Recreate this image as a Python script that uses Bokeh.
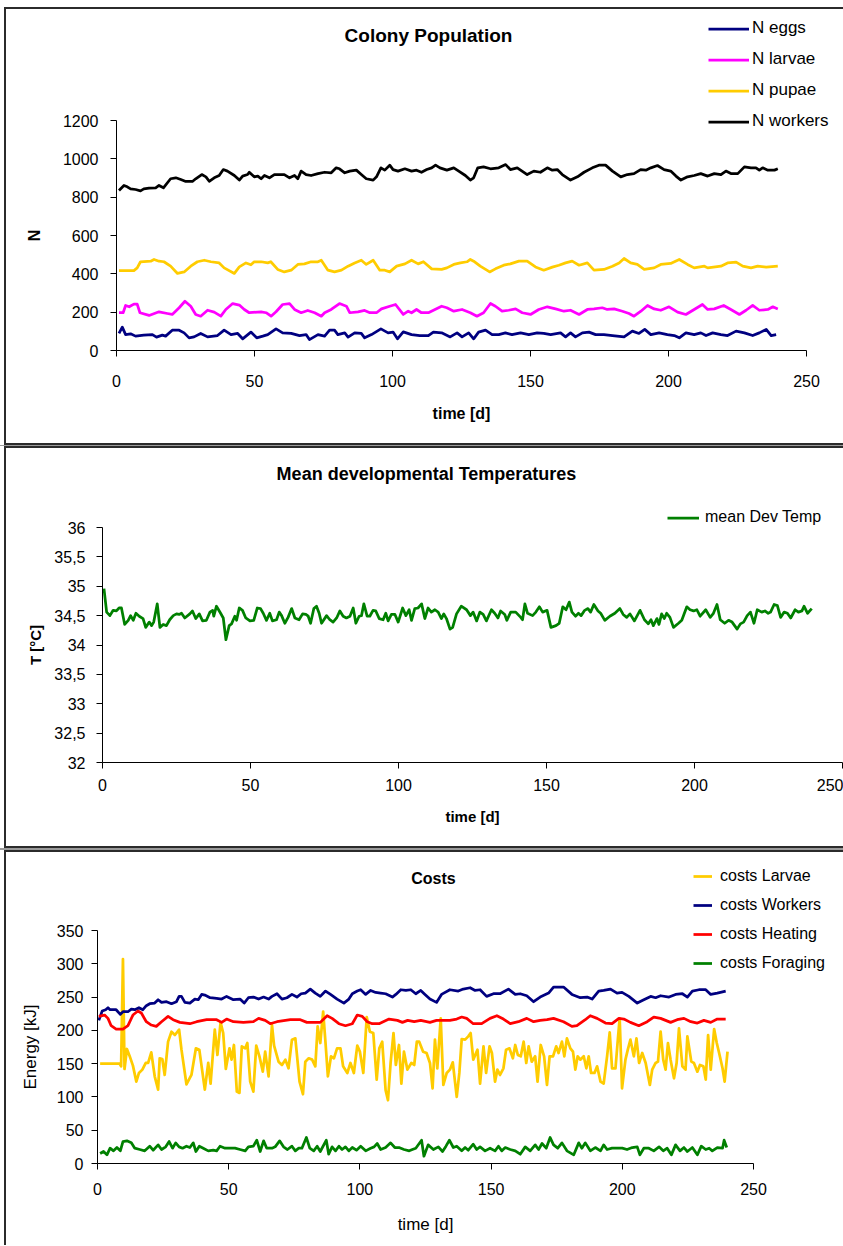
from bokeh.plotting import figure
from bokeh.models import Range1d, FixedTicker, Legend, LegendItem, Label, CustomJSTickFormatter
from bokeh.layouts import column
from bokeh.embed import file_html
from bokeh.resources import INLINE

FONT = "Liberation Sans"

# ---------------- Panel 1: Colony Population ----------------
workers_day = [0.9, 2.7, 3.9, 5.1, 6.9, 8.7, 9.9, 11.8, 14.2, 15.4, 17.0, 19.6, 21.5, 23.3, 25.1, 27.5, 28.7, 30.9, 32.4, 33.6,
               35.4, 37.2, 38.7, 40.2, 42.7, 44.5, 45.7, 47.5, 48.1, 49.9, 51.2, 52.4, 53.6, 55.4, 57.2, 60.8, 62.7, 64.5, 65.7, 66.9,
               68.7, 70.5, 73.0, 75.4, 77.8, 79.6, 80.8, 82.7, 84.5, 86.9, 88.7, 90.5, 93.0, 94.2, 95.8, 97.2, 99.0, 100.2, 102.0, 104.5,
               106.9, 108.7, 110.5, 112.4, 114.2, 115.6, 117.2, 119.7, 122.2, 124.0, 126.4, 128.2, 129.4, 130.9, 133.0, 135.5, 138.5, 141.0, 142.7, 145.2,
               148.8, 151.2, 153.6, 156.1, 157.9, 159.7, 161.5, 164.5, 167.0, 169.4, 172.4, 174.8, 177.2, 179.7, 182.7, 185.1, 187.5, 189.9, 191.8, 193.6,
               196.0, 198.4, 200.8, 202.7, 204.5, 206.9, 209.3, 211.7, 214.2, 216.6, 219.0, 220.8, 222.6, 225.1, 227.5, 229.9, 231.7, 232.9, 234.1, 236.0,
               238.4, 239.6]
workers_n = [835, 861, 854, 843, 840, 833, 843, 847, 849, 861, 849, 896, 901, 892, 882, 882, 896, 918, 906, 883,
             901, 913, 944, 936, 913, 889, 910, 918, 930, 906, 910, 896, 913, 901, 918, 918, 901, 913, 896, 936,
             918, 913, 923, 930, 927, 953, 948, 927, 936, 941, 918, 896, 889, 906, 953, 941, 967, 944, 936, 948,
             936, 941, 930, 944, 953, 967, 953, 941, 953, 936, 913, 889, 901, 953, 958, 948, 953, 970, 944, 953,
             918, 936, 930, 953, 941, 944, 918, 889, 906, 930, 953, 967, 967, 936, 906, 918, 923, 944, 941, 953,
             965, 944, 936, 910, 889, 906, 913, 923, 910, 923, 918, 936, 923, 923, 958, 953, 953, 941, 953, 941,
             941, 948]

pupae_day = [0.9, 6.3, 7.5, 8.7, 12.4, 13.6, 15.4, 17.2, 19.6, 22.1, 24.5, 26.9, 29.3, 31.8, 34.2, 37.2, 39.0, 42.7, 44.5, 46.9,
             48.7, 49.9, 52.4, 54.8, 55.9, 58.4, 60.8, 63.3, 65.7, 68.1, 70.5, 73.0, 74.2, 76.6, 79.0, 81.5, 83.9, 86.3, 88.7, 90.5,
             93.0, 95.4, 97.2, 99.0, 101.5, 104.5, 106.9, 109.3, 111.2, 114.2, 117.8, 119.7, 122.2, 124.6, 127.0, 128.2, 129.4, 131.8, 135.2, 137.3,
             140.3, 142.7, 145.8, 148.8, 151.8, 154.8, 157.9, 160.3, 162.7, 165.1, 167.6, 170.6, 173.0, 176.6, 179.7, 182.1, 183.9, 186.3, 188.7, 191.2,
             194.8, 197.2, 200.8, 203.9, 206.9, 209.3, 213.0, 214.2, 219.0, 221.4, 224.5, 226.9, 229.9, 232.3, 235.4, 239.6]
pupae_n = [417, 417, 431, 463, 466, 475, 466, 463, 440, 402, 410, 440, 463, 471, 463, 457, 431, 402, 436, 457,
           447, 463, 463, 457, 463, 423, 410, 419, 449, 452, 463, 463, 471, 419, 410, 419, 440, 457, 471, 449,
           471, 419, 419, 410, 440, 452, 471, 452, 463, 426, 423, 431, 449, 457, 463, 475, 466, 440, 410, 426,
           445, 452, 466, 466, 436, 419, 435, 445, 457, 466, 445, 457, 419, 423, 440, 457, 480, 457, 449, 423,
           431, 449, 454, 475, 449, 431, 440, 431, 440, 457, 461, 440, 431, 440, 435, 440]

larvae_day = [0.9, 2.4, 3.3, 4.6, 6.3, 7.5, 8.5, 11.8, 15.4, 18.4, 20.2, 22.7, 24.8, 26.9, 28.7, 30.5, 33.0, 35.4, 37.8, 39.6,
              42.1, 44.5, 46.3, 48.1, 52.4, 54.2, 56.0, 57.8, 60.2, 62.7, 64.5, 66.9, 69.3, 71.8, 74.2, 75.4, 77.8, 80.8, 83.3, 84.5,
              87.5, 89.9, 91.8, 94.2, 96.0, 99.0, 101.1, 103.9, 105.7, 106.9, 108.7, 110.5, 113.0, 115.4, 117.8, 119.7, 122.2, 125.2, 128.2, 130.6,
              133.0, 135.5, 137.3, 139.7, 142.1, 144.6, 147.0, 150.0, 153.0, 156.1, 159.1, 162.1, 164.5, 167.6, 170.6, 173.0, 176.0, 177.8, 180.3, 183.3,
              185.7, 187.5, 190.0, 192.4, 194.8, 197.2, 200.2, 203.3, 206.3, 209.3, 212.3, 214.2, 216.6, 220.0, 222.6, 225.7, 228.1, 230.5, 232.9, 236.0,
              237.8, 239.6]
larvae_n = [197, 197, 235, 228, 242, 242, 197, 183, 202, 193, 188, 223, 257, 231, 188, 179, 210, 200, 179, 214,
            245, 237, 214, 197, 202, 197, 179, 202, 240, 245, 214, 197, 209, 197, 179, 197, 214, 245, 231, 197,
            202, 209, 197, 197, 217, 231, 240, 188, 205, 197, 214, 197, 197, 214, 231, 223, 205, 214, 197, 179,
            197, 245, 231, 205, 210, 217, 197, 188, 214, 228, 217, 205, 210, 188, 214, 217, 223, 214, 217, 205,
            193, 179, 205, 235, 217, 210, 228, 200, 188, 214, 240, 214, 217, 235, 214, 188, 210, 235, 210, 214,
            228, 217]

eggs_day = [0.9, 2.1, 3.3, 5.1, 6.9, 9.9, 13.0, 14.5, 16.6, 17.8, 20.2, 22.7, 24.5, 26.3, 28.1, 30.5, 33.0, 36.6, 39.0, 41.5,
            43.9, 45.7, 48.7, 50.8, 53.0, 54.8, 57.8, 60.2, 63.3, 66.3, 68.7, 69.9, 73.0, 75.4, 77.2, 79.0, 80.2, 82.7, 83.9, 86.3,
            88.7, 89.9, 92.4, 95.8, 98.4, 100.2, 101.8, 103.9, 106.9, 109.9, 113.0, 114.8, 117.8, 120.9, 123.4, 125.2, 127.6, 129.4, 131.2, 133.7,
            136.1, 138.5, 140.9, 143.3, 146.4, 149.4, 152.4, 154.8, 157.3, 160.9, 162.7, 164.5, 166.3, 168.8, 171.2, 173.6, 176.6, 179.7, 183.9, 186.9,
            189.3, 191.4, 193.6, 196.6, 199.6, 202.1, 203.9, 206.3, 209.3, 211.7, 213.6, 216.0, 219.0, 221.4, 224.5, 227.5, 230.5, 232.9, 235.4, 237.2,
            239.0]
eggs_n = [89, 122, 83, 87, 75, 80, 83, 70, 80, 75, 106, 106, 92, 66, 71, 89, 71, 78, 106, 83,
          89, 61, 96, 66, 75, 83, 113, 92, 89, 78, 83, 57, 83, 75, 106, 106, 83, 92, 70, 92,
          89, 66, 83, 113, 92, 96, 61, 97, 83, 78, 78, 96, 92, 71, 92, 71, 92, 61, 96, 106,
          83, 83, 92, 83, 92, 83, 92, 89, 83, 92, 71, 92, 71, 92, 96, 83, 83, 78, 71, 101,
          89, 110, 83, 92, 83, 78, 66, 92, 83, 92, 78, 92, 83, 78, 101, 92, 78, 92, 110, 78,
          83]

pop_xticks = [0, 50, 100, 150, 200, 250]
pop_yticks = [0, 200, 400, 600, 800, 1000, 1200]

# ---------------- Panel 2: Mean developmental Temperatures ----------------
temp_day = [0.5, 1.4, 2.5, 3.6, 4.7, 5.6, 6.4, 7.5, 8.7, 9.5, 10.4, 11.3, 12.4, 13.7, 14.6, 15.8, 16.6, 17.3, 18.5, 19.4,
            20.5, 21.6, 22.7, 23.9, 25.0, 25.9, 26.7, 27.8, 29.5, 30.4, 31.5, 32.7, 33.8, 35.1, 36.3, 37.2, 37.6, 38.5, 39.9, 40.8,
            41.7, 42.8, 43.6, 44.7, 45.3, 46.2, 47.3, 48.4, 49.8, 51.1, 52.3, 53.4, 54.3, 55.4, 56.5, 57.4, 58.8, 59.7, 60.5, 61.6,
            62.7, 63.9, 65.0, 66.4, 67.6, 68.7, 69.5, 70.3, 71.4, 72.3, 73.2, 74.0, 75.7, 76.8, 77.9, 79.1, 80.2, 81.3, 82.4, 83.6,
            84.7, 85.6, 86.7, 87.5, 88.3, 89.4, 90.3, 91.4, 92.3, 93.5, 94.8, 95.7, 96.5, 97.6, 98.8, 99.9, 101.4, 102.5, 103.6, 104.4,
            105.5, 106.6, 107.8, 108.9, 110.0, 111.1, 112.3, 113.4, 114.5, 115.3, 116.2, 117.4, 118.3, 119.6, 121.2, 123.0, 124.3, 125.2, 126.4, 127.5,
            128.6, 129.7, 131.4, 132.5, 133.6, 134.5, 135.9, 136.6, 137.9, 139.6, 141.3, 141.9, 142.7, 143.6, 145.3, 146.4, 147.6, 148.7, 150.2, 151.5,
            153.2, 154.3, 155.5, 156.6, 157.7, 158.6, 159.8, 160.8, 161.7, 162.9, 164.0, 164.9, 166.0, 167.4, 168.3, 169.7, 171.4, 173.1, 174.8, 175.9,
            177.1, 178.2, 179.7, 181.6, 183.1, 184.4, 185.3, 186.1, 187.3, 188.0, 188.9, 189.8, 190.6, 191.7, 192.9, 194.6, 195.7, 197.4, 198.5, 199.7,
            200.8, 201.9, 203.8, 205.3, 206.4, 207.6, 208.7, 210.2, 211.5, 212.7, 214.4, 215.5, 216.6, 217.8, 218.9, 220.1, 221.2, 222.7, 223.8, 224.9,
            225.7, 226.9, 228.0, 229.1, 230.3, 231.4, 232.5, 234.0, 235.1, 236.3, 237.0, 238.2, 239.6]
temp_c = [34.96, 34.56, 34.50, 34.59, 34.58, 34.63, 34.63, 34.35, 34.42, 34.50, 34.42, 34.54, 34.49, 34.45, 34.30, 34.39, 34.33, 34.39, 34.70, 34.30,
          34.35, 34.33, 34.43, 34.50, 34.53, 34.52, 34.54, 34.46, 34.53, 34.58, 34.45, 34.53, 34.41, 34.42, 34.56, 34.59, 34.49, 34.66, 34.54, 34.46,
          34.09, 34.33, 34.36, 34.49, 34.42, 34.63, 34.59, 34.46, 34.41, 34.42, 34.63, 34.62, 34.54, 34.42, 34.54, 34.41, 34.43, 34.56, 34.50, 34.37,
          34.47, 34.62, 34.46, 34.43, 34.53, 34.52, 34.49, 34.37, 34.62, 34.66, 34.54, 34.37, 34.50, 34.43, 34.39, 34.46, 34.58, 34.49, 34.46, 34.49,
          34.63, 34.37, 34.49, 34.50, 34.70, 34.49, 34.49, 34.59, 34.58, 34.45, 34.43, 34.54, 34.41, 34.52, 34.52, 34.39, 34.63, 34.50, 34.60, 34.42,
          34.62, 34.63, 34.70, 34.45, 34.63, 34.56, 34.60, 34.56, 34.45, 34.53, 34.45, 34.27, 34.30, 34.53, 34.66, 34.60, 34.50, 34.56, 34.41, 34.56,
          34.52, 34.41, 34.60, 34.54, 34.46, 34.58, 34.52, 34.42, 34.56, 34.56, 34.47, 34.43, 34.70, 34.54, 34.50, 34.56, 34.65, 34.56, 34.59, 34.30,
          34.33, 34.37, 34.65, 34.60, 34.73, 34.56, 34.49, 34.54, 34.50, 34.59, 34.62, 34.56, 34.69, 34.58, 34.54, 34.42, 34.49, 34.54, 34.62, 34.52,
          34.47, 34.53, 34.41, 34.59, 34.43, 34.36, 34.43, 34.33, 34.45, 34.35, 34.53, 34.45, 34.54, 34.47, 34.30, 34.37, 34.42, 34.65, 34.60, 34.58,
          34.60, 34.49, 34.60, 34.47, 34.54, 34.69, 34.43, 34.37, 34.42, 34.39, 34.27, 34.36, 34.39, 34.50, 34.56, 34.37, 34.60, 34.56, 34.58, 34.54,
          34.56, 34.69, 34.67, 34.47, 34.56, 34.54, 34.46, 34.60, 34.56, 34.58, 34.66, 34.54, 34.62]

temp_xticks = [0, 50, 100, 150, 200, 250]
temp_yticks = [32, 32.5, 33, 33.5, 34, 34.5, 35, 35.5, 36]

# ---------------- Panel 3: Costs ----------------
c_larvae_day = [1.0, 8.4, 9.0, 9.7, 10.3, 11.2, 12.2, 13.5, 14.8, 15.8, 17.1, 18.4, 19.3, 20.5, 21.8, 23.1, 23.7, 24.7, 25.6, 26.9,
                28.2, 29.5, 31.1, 32.0, 33.9, 35.8, 37.5, 38.8, 40.9, 42.2, 43.1, 44.7, 45.7, 46.9, 47.9, 48.9, 50.3, 51.1, 52.0, 53.1,
                54.1, 55.0, 56.3, 57.1, 58.2, 59.4, 60.5, 61.7, 63.0, 63.9, 65.2, 66.5, 67.3, 69.0, 70.3, 71.6, 72.8, 74.1, 75.4, 77.0,
                78.3, 79.2, 80.5, 81.8, 83.0, 83.9, 84.9, 86.0, 86.9, 87.8, 89.0, 90.1, 91.3, 92.6, 93.6, 95.2, 96.4, 97.7, 99.0, 100.0,
                101.3, 102.6, 103.8, 105.1, 106.4, 107.4, 108.5, 109.8, 110.7, 111.7, 112.8, 113.7, 114.9, 115.8, 116.8, 118.1, 119.6, 120.7, 121.7, 122.6,
                124.1, 125.4, 126.7, 127.7, 128.6, 129.5, 130.8, 131.8, 133.1, 134.3, 135.4, 136.9, 137.9, 138.8, 140.1, 141.3, 142.2, 143.2, 144.8, 145.8,
                147.1, 148.1, 149.4, 150.3, 151.5, 152.4, 153.4, 154.7, 155.7, 157.0, 158.3, 159.2, 160.2, 161.3, 162.4, 163.4, 164.3, 165.5, 166.8, 167.7,
                168.9, 170.2, 171.3, 172.3, 173.6, 174.8, 175.7, 177.0, 177.9, 178.9, 180.2, 181.2, 182.1, 183.0, 184.0, 185.3, 186.3, 187.2, 188.1, 189.4,
                190.4, 191.7, 192.9, 194.2, 195.2, 196.1, 197.4, 198.4, 199.0, 199.9, 201.2, 202.1, 203.1, 204.4, 205.4, 206.4, 207.6, 208.9, 210.5, 211.4,
                212.7, 213.6, 214.6, 215.6, 216.5, 217.4, 218.4, 219.7, 220.7, 221.6, 222.9, 224.1, 224.8, 226.3, 227.3, 228.6, 229.6, 230.9, 231.8, 232.7,
                233.7, 235.0, 236.0, 236.9, 238.2, 239.0, 240.1]
c_larvae = [150, 150, 146, 307, 142, 172, 162, 147, 123, 136, 141, 151, 151, 167, 131, 111, 158, 157, 133, 183,
            198, 193, 201, 171, 119, 133, 173, 171, 111, 151, 120, 201, 163, 212, 196, 142, 173, 156, 178, 108,
            106, 176, 173, 181, 123, 108, 177, 161, 138, 168, 131, 208, 177, 153, 148, 156, 143, 186, 188, 123,
            104, 153, 158, 156, 146, 206, 181, 228, 181, 131, 161, 158, 173, 173, 146, 136, 151, 136, 177, 168,
            136, 220, 198, 196, 126, 173, 183, 110, 95, 151, 196, 148, 178, 120, 168, 141, 151, 148, 183, 183,
            168, 166, 151, 113, 186, 143, 218, 118, 136, 141, 152, 100, 136, 187, 186, 191, 196, 156, 171, 120,
            176, 136, 176, 166, 123, 141, 133, 143, 171, 173, 158, 178, 163, 161, 183, 151, 176, 153, 161, 123,
            178, 161, 118, 161, 161, 176, 166, 183, 161, 188, 173, 168, 141, 161, 156, 161, 143, 161, 136, 136,
            146, 123, 120, 161, 197, 143, 143, 191, 218, 113, 156, 171, 186, 161, 188, 151, 166, 151, 118, 141,
            151, 153, 198, 156, 141, 181, 156, 128, 151, 203, 146, 141, 191, 153, 151, 138, 148, 146, 126, 193,
            141, 202, 181, 166, 143, 123, 168]

c_workers_day = [0.5, 1.8, 3.1, 4.0, 4.8, 7.1, 8.7, 9.7, 11.6, 12.9, 14.2, 15.8, 17.3, 18.6, 19.9, 21.8, 23.1, 24.4, 26.3, 28.2,
                 30.1, 31.1, 32.0, 33.3, 35.2, 37.1, 38.4, 39.7, 40.9, 42.9, 45.4, 47.3, 49.2, 51.8, 54.3, 55.9, 57.5, 59.4, 61.4, 63.3,
                 65.2, 66.5, 68.4, 70.3, 72.2, 74.1, 76.0, 77.6, 79.2, 81.1, 83.0, 84.9, 86.9, 88.8, 91.3, 93.9, 95.8, 97.1, 99.0, 100.3,
                 102.2, 104.1, 106.0, 107.9, 109.8, 112.4, 113.7, 115.6, 117.5, 119.4, 121.3, 123.2, 124.8, 126.7, 129.2, 131.1, 134.3, 137.5, 139.4, 142.0,
                 143.9, 145.8, 148.3, 150.9, 153.4, 156.6, 159.2, 161.1, 163.6, 166.2, 168.7, 171.9, 173.8, 177.6, 180.8, 184.0, 186.6, 188.5, 191.0, 192.9,
                 195.5, 198.0, 199.9, 202.5, 205.7, 208.2, 210.8, 212.7, 214.6, 217.8, 220.3, 222.9, 224.8, 226.7, 229.2, 231.8, 233.7, 236.2, 239.4]
c_workers = [215, 229, 231, 234, 231, 231, 224, 228, 228, 232, 231, 234, 231, 237, 240, 241, 246, 242, 243, 240,
             243, 251, 251, 242, 241, 247, 246, 254, 253, 249, 248, 247, 251, 246, 247, 241, 249, 250, 247, 250,
             247, 251, 255, 247, 249, 254, 250, 255, 256, 262, 256, 251, 259, 254, 247, 241, 247, 255, 259, 261,
             254, 260, 257, 256, 255, 250, 254, 261, 260, 261, 255, 260, 254, 247, 242, 254, 261, 259, 262, 264,
             260, 261, 251, 255, 255, 262, 254, 255, 252, 243, 250, 256, 265, 265, 254, 249, 250, 247, 259, 260,
             262, 256, 257, 251, 241, 246, 251, 249, 252, 250, 254, 255, 250, 259, 261, 261, 254, 256, 259]

c_heating_day = [0.5, 2.7, 4.0, 5.2, 7.1, 9.7, 11.6, 13.5, 15.4, 16.7, 18.6, 20.5, 22.4, 24.4, 26.9, 28.8, 31.4, 35.2, 37.8, 41.6,
                 45.4, 47.3, 49.2, 51.8, 55.6, 59.4, 61.4, 63.9, 65.8, 68.4, 73.5, 77.3, 79.8, 84.9, 87.5, 89.4, 92.0, 94.5, 97.1, 99.0,
                 100.9, 102.8, 104.7, 107.3, 111.1, 114.3, 116.2, 118.2, 120.7, 123.2, 126.7, 129.2, 134.3, 136.9, 138.8, 140.7, 143.2, 146.4, 149.6, 152.2,
                 154.7, 157.3, 160.4, 163.6, 166.2, 168.7, 171.3, 173.8, 177.6, 180.8, 182.7, 185.9, 187.8, 190.4, 193.6, 196.1, 198.7, 200.6, 203.1, 206.3,
                 209.5, 212.0, 214.6, 218.4, 220.9, 223.5, 226.1, 228.6, 231.1, 233.7, 236.2, 239.4]
c_heating = [221, 223, 218, 207, 202, 202, 207, 223, 229, 226, 213, 208, 206, 213, 221, 216, 212, 210, 213, 216,
             216, 212, 217, 213, 212, 213, 218, 215, 210, 213, 216, 216, 212, 212, 222, 218, 210, 207, 210, 223,
             221, 213, 210, 210, 217, 215, 212, 215, 213, 215, 212, 215, 215, 217, 220, 218, 210, 210, 218, 222,
             217, 210, 213, 218, 213, 215, 216, 218, 213, 206, 207, 216, 222, 218, 211, 210, 218, 217, 212, 207,
             213, 220, 218, 212, 216, 218, 213, 211, 215, 212, 217, 217]

c_foraging_day = [1.0, 2.3, 3.6, 4.8, 6.1, 7.4, 8.7, 9.7, 11.2, 12.9, 14.2, 16.1, 18.0, 19.9, 21.2, 23.1, 24.4, 26.0, 27.3, 28.6,
                  29.8, 31.1, 32.4, 33.9, 35.2, 36.5, 37.5, 38.8, 40.3, 42.2, 44.1, 45.4, 46.7, 48.6, 50.5, 52.4, 54.3, 56.3, 57.5, 59.4,
                  60.7, 62.0, 63.3, 64.5, 66.5, 67.7, 69.4, 70.9, 72.4, 74.1, 75.4, 76.7, 77.9, 79.6, 80.9, 82.4, 83.7, 84.9, 87.2, 88.1,
                  89.4, 90.7, 92.0, 93.2, 94.5, 95.8, 97.1, 98.7, 100.3, 102.2, 104.1, 105.4, 106.6, 107.9, 109.8, 111.7, 113.3, 114.9, 116.8, 118.8,
                  120.0, 121.3, 123.5, 124.4, 126.0, 128.0, 129.9, 131.5, 132.8, 134.1, 135.6, 136.9, 138.8, 140.1, 141.3, 143.2, 144.5, 145.8, 147.7, 149.6,
                  151.5, 152.8, 154.1, 155.4, 157.3, 159.2, 161.1, 163.0, 164.9, 166.8, 168.1, 169.4, 171.0, 172.5, 173.8, 175.4, 177.0, 178.9, 181.5, 183.4,
                  184.6, 185.9, 187.8, 189.7, 191.7, 192.9, 194.2, 196.1, 198.0, 200.0, 201.8, 203.8, 205.7, 206.7, 208.2, 210.1, 212.0, 214.0, 215.6, 217.1,
                  218.7, 220.3, 222.0, 223.5, 224.8, 226.7, 228.6, 230.1, 231.8, 233.1, 234.3, 236.2, 238.2, 238.8, 239.8]
c_foraging = [15, 18, 13, 23, 19, 24, 19, 33, 34, 31, 23, 21, 19, 26, 20, 28, 21, 25, 33, 23,
              31, 25, 23, 26, 24, 31, 18, 26, 23, 19, 20, 19, 26, 23, 23, 23, 21, 19, 25, 26,
              35, 18, 34, 23, 23, 25, 34, 25, 21, 26, 19, 23, 23, 39, 23, 19, 26, 18, 35, 14,
              25, 19, 26, 21, 25, 19, 24, 20, 26, 19, 23, 25, 30, 21, 24, 31, 24, 24, 21, 19,
              21, 23, 35, 11, 28, 21, 25, 18, 26, 35, 24, 26, 19, 24, 20, 29, 21, 25, 19, 23,
              19, 26, 19, 24, 21, 19, 14, 25, 19, 28, 21, 30, 23, 39, 28, 23, 31, 19, 13, 31,
              23, 31, 19, 24, 19, 28, 21, 23, 23, 23, 21, 24, 25, 13, 23, 23, 19, 25, 19, 23,
              13, 28, 19, 24, 18, 24, 13, 26, 21, 23, 19, 24, 23, 35, 24]

cost_xticks = [0, 50, 100, 150, 200, 250]
cost_yticks = [0, 50, 100, 150, 200, 250, 300, 350]

# ---------------- helpers ----------------
FIG_W = 843
GEOM = {}


def make_fig(fig_h, xa, xb, ya, yb):
    """xa/xb: (data x, pixel x); ya/yb: (data y, pixel y from figure top).
    The frame fills the whole figure; ranges are set so the data anchors land
    on the given pixel positions."""
    sx = (xb[1] - xa[1]) / (xb[0] - xa[0])
    sy = (ya[1] - yb[1]) / (yb[0] - ya[0])
    x0 = xa[0] - xa[1] / sx
    x1 = xa[0] + (FIG_W - xa[1]) / sx
    y1 = yb[0] + yb[1] / sy
    y0 = ya[0] - (fig_h - ya[1]) / sy
    p = figure(width=FIG_W, height=fig_h, title=None,
               x_range=Range1d(x0, x1), y_range=Range1d(y0, y1),
               min_border=0, min_border_left=0, min_border_right=0,
               min_border_top=0, min_border_bottom=0,
               output_backend="svg", toolbar_location=None)
    p.xgrid.grid_line_color = None
    p.ygrid.grid_line_color = None
    p.outline_line_color = None
    p.border_fill_color = None
    p.background_fill_color = None
    p.xaxis.fixed_location = ya[0]
    p.yaxis.fixed_location = xa[0]
    p.xaxis.bounds = (xa[0], xb[0])
    p.yaxis.bounds = (ya[0], yb[0])
    GEOM[p.id] = dict(sx=sx, sy=sy, x0=x0, y1=y1, h=fig_h)
    return p


def px_to_data(p, px, py):
    g = GEOM[p.id]
    return g["x0"] + px / g["sx"], g["y1"] - py / g["sy"]


def style_axes(p, xticks, yticks, xlabel, ylabel, label_style, xstand, ystand,
               x_lbl_stand, y_lbl_stand, xl_size, yl_size, tick_size="16px"):
    p.xaxis.ticker = FixedTicker(ticks=xticks)
    p.yaxis.ticker = FixedTicker(ticks=yticks)
    for ax in (p.xaxis[0], p.yaxis[0]):
        ax.axis_line_color = "black"
        ax.axis_line_width = 1
        ax.major_tick_line_color = "black"
        ax.major_tick_line_width = 1
        ax.major_tick_out = 6
        ax.major_tick_in = 0
        ax.minor_tick_line_color = None
        ax.major_label_text_font = FONT
        ax.major_label_text_font_size = tick_size
        ax.major_label_text_color = "black"
        ax.axis_label_text_font = FONT
        ax.axis_label_text_font_style = label_style
        ax.axis_label_text_color = "black"
    p.xaxis.axis_label = xlabel
    p.yaxis.axis_label = ylabel
    p.xaxis.axis_label_text_font_size = xl_size
    p.yaxis.axis_label_text_font_size = yl_size
    p.xaxis.major_label_standoff = xstand
    p.yaxis.major_label_standoff = ystand
    p.xaxis.axis_label_standoff = x_lbl_stand
    p.yaxis.axis_label_standoff = y_lbl_stand


def add_title(p, text, px, py, size):
    x, y = px_to_data(p, px, py)
    p.add_layout(Label(x=x, y=y, text=text, text_align="center", text_baseline="middle",
                       text_font=FONT, text_font_style="bold", text_font_size=size,
                       text_color="black"))


def add_legend(p, items, left_px, top_px, glyph_w, item_h, spacing, standoff, size):
    g = GEOM[p.id]
    n = len(items)
    H = n * item_h + (n - 1) * spacing
    vx = left_px
    vy = g["h"] - (top_px + H)
    leg = Legend(items=[LegendItem(label=l, renderers=[r]) for l, r in items],
                 location=(vx, vy), orientation="vertical",
                 glyph_width=glyph_w, glyph_height=item_h, label_height=item_h,
                 spacing=spacing, label_standoff=standoff, padding=0, margin=0,
                 border_line_color=None, background_fill_color=None,
                 label_text_font=FONT, label_text_font_size=size, label_text_color="black")
    p.add_layout(leg)


def border(p, top, bottom=None, left=4, color="#2b2b2b", shade="#9a9a9a"):
    """Panel frame drawn as CSS background strips behind the transparent canvas."""
    g = GEOM[p.id]
    end = bottom + 2 if bottom is not None else g["h"]
    layers = [
        f"linear-gradient({color},{color}) {left}px {top}px / 2px {end - top}px no-repeat",
        f"linear-gradient({color},{color}) {left}px {top}px / {FIG_W - left}px 2px no-repeat",
    ]
    if bottom is not None:
        layers.append(f"linear-gradient({color},{color}) {left}px {bottom}px / {FIG_W - left}px 2px no-repeat")
        layers.append(f"linear-gradient({shade},{shade}) 0px {bottom + 2}px / {FIG_W}px {g['h'] - bottom - 2}px no-repeat")
    p.styles = {"background": ", ".join(layers) + ", white"}


LW = 2.75

# ---------------- Panel 1 (page y 0..446) ----------------
H1 = 446
p1 = make_fig(H1, (0, 116), (250, 806), (0, 350), (1200, 120))
r_eggs = p1.line(eggs_day, eggs_n, line_color="#000080", line_width=LW, line_join="round")
r_larv = p1.line(larvae_day, larvae_n, line_color="#FF00FF", line_width=LW, line_join="round")
r_pup = p1.line(pupae_day, pupae_n, line_color="#FFCC00", line_width=LW, line_join="round")
r_work = p1.line(workers_day, workers_n, line_color="#000000", line_width=LW, line_join="round")
style_axes(p1, pop_xticks, pop_yticks, "time [d]", "N", "bold", 18, 12, 15, 17, "16px", "16px")
add_title(p1, "Colony Population", 428, 35, "19px")
add_legend(p1, [("N eggs", r_eggs), ("N larvae", r_larv), ("N pupae", r_pup), ("N workers", r_work)],
           708, 16.8, 41, 23, 8, 3, "17px")
border(p1, 7, 443)

# ---------------- Panel 2 (page y 446..850) ----------------
H2 = 404
p2 = make_fig(H2, (0, 102), (250, 842), (32, 316), (36, 81))
r_temp = p2.line(temp_day, temp_c, line_color="#008000", line_width=LW, line_join="round")
style_axes(p2, temp_xticks, temp_yticks, "time [d]", "T [°C]", "bold", 10, 11, 14, 7, "15px", "15px")
p2.yaxis.formatter = CustomJSTickFormatter(code="return tick.toFixed(1).replace('.0', '').replace('.', ',');")
add_title(p2, "Mean developmental Temperatures", 426, 27, "18px")
add_legend(p2, [("mean Dev Temp", r_temp)], 667, 59.5, 32, 23, 0, 6, "16px")
border(p2, 0, 400)

# ---------------- Panel 3 (page y 850..1245) ----------------
H3 = 395
p3 = make_fig(H3, (0, 97), (250, 753), (0, 313), (350, 80))
r_cl = p3.line(c_larvae_day, c_larvae, line_color="#FFCC00", line_width=LW, line_join="round")
r_cw = p3.line(c_workers_day, c_workers, line_color="#000080", line_width=LW, line_join="round")
r_ch = p3.line(c_heating_day, c_heating, line_color="#FF0000", line_width=LW, line_join="round")
r_cf = p3.line(c_foraging_day, c_foraging, line_color="#008000", line_width=LW, line_join="round")
style_axes(p3, cost_xticks, cost_yticks, "time [d]", "Energy [kJ]", "normal", 13, 8, 17, 14, "17px", "17px")
add_title(p3, "Costs", 433, 28, "16px")
add_legend(p3, [("costs Larvae", r_cl), ("costs Workers", r_cw), ("costs Heating", r_ch), ("costs Foraging", r_cf)],
           693, 15, 19, 22, 7, 8, "16px")
border(p3, 0)

layout = column(p1, p2, p3, spacing=0)
open("out.html", "w").write(file_html(layout, INLINE))
